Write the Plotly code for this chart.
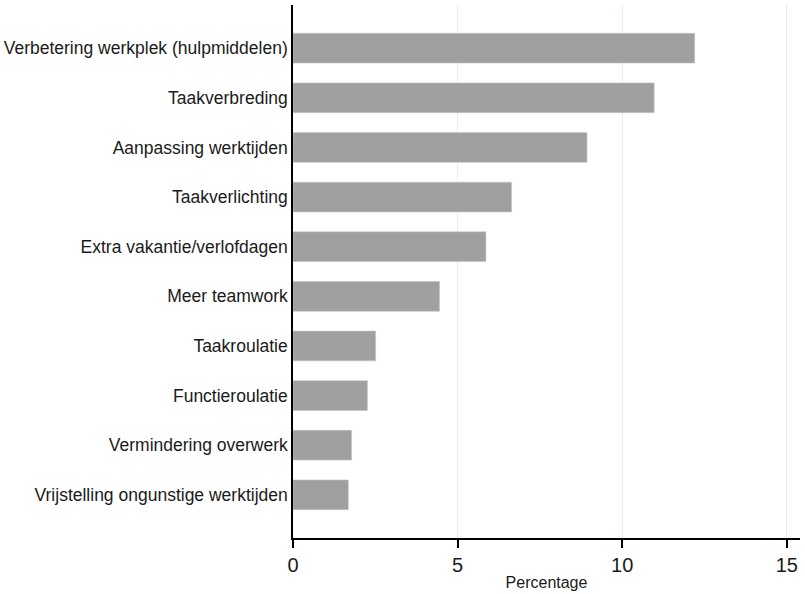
import plotly.graph_objects as go

categories = [
    "Verbetering werkplek (hulpmiddelen)",
    "Taakverbreding",
    "Aanpassing werktijden",
    "Taakverlichting",
    "Extra vakantie/verlofdagen",
    "Meer teamwork",
    "Taakroulatie",
    "Functieroulatie",
    "Vermindering overwerk",
    "Vrijstelling ongunstige werktijden",
]
percentages = [12.2, 10.97, 8.93, 6.64, 5.86, 4.45, 2.51, 2.26, 1.78, 1.68]
x_ticks = [0, 5, 10, 15]

TEXT = "#1a1a1a"
FONT = "Liberation Sans, Arial, sans-serif"

fig = go.Figure(
    go.Bar(
        x=percentages,
        y=categories,
        orientation="h",
        marker=dict(color="#a0a0a0", line=dict(color="#c4c4c4", width=0.6)),
        width=0.6,
        hoverinfo="skip",
    )
)

fig.update_layout(
    width=805,
    height=594,
    margin=dict(l=293, r=5, t=5, b=56),
    paper_bgcolor="white",
    plot_bgcolor="white",
    showlegend=False,
    font=dict(family=FONT, color=TEXT),
    xaxis=dict(
        range=[0, 15.4],
        tickvals=x_ticks,
        ticks="outside",
        ticklen=8,
        tickwidth=1.5,
        tickcolor="black",
        showline=True,
        linecolor="black",
        linewidth=1.5,
        showgrid=True,
        gridcolor="#e8eff2",
        gridwidth=1,
        zeroline=False,
        automargin=False,
        tickfont=dict(size=20, color=TEXT),
        title=dict(text="Percentage", font=dict(size=16, color=TEXT), standoff=2),
    ),
    yaxis=dict(
        categoryorder="array",
        categoryarray=categories,
        range=[9.87, -0.87],
        showline=True,
        linecolor="black",
        linewidth=1.5,
        ticks="",
        showgrid=False,
        zeroline=False,
        automargin=False,
        tickfont=dict(size=17.5, color=TEXT),
    ),
)

# the page body has a default 8px margin; drop it so the figure sits at 0,0
fig.write_html(
    "out.html",
    config={"displayModeBar": False},
    post_script="document.body.style.margin='0';",
)
